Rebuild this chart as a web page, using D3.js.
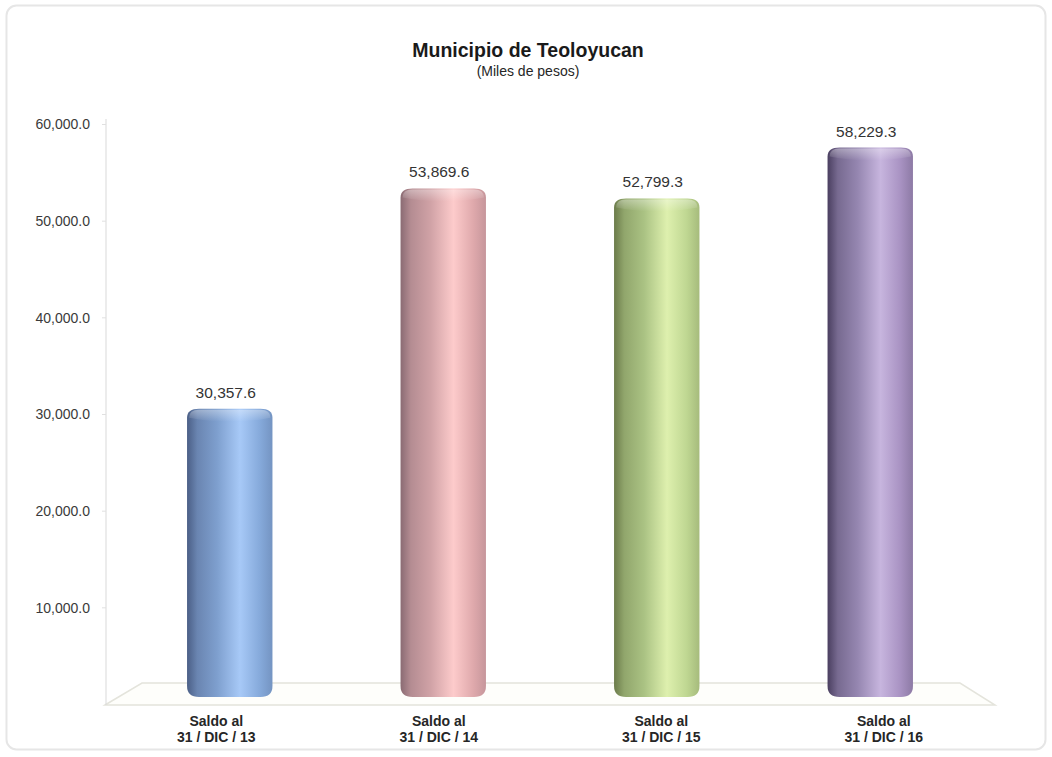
<!DOCTYPE html>
<html><head><meta charset="utf-8">
<script src="https://cdn.jsdelivr.net/npm/d3@7"></script>
<style>body{margin:0;background:#fff;}svg{display:block;font-family:"Liberation Sans",Arial,sans-serif;}</style>
</head><body>
<svg id="c" width="1052" height="757"></svg>
<script>
const categories = ["Saldo al|31 / DIC / 13","Saldo al|31 / DIC / 14","Saldo al|31 / DIC / 15","Saldo al|31 / DIC / 16"];
const values = [30357.6, 53869.6, 52799.3, 58229.3];
const valueLabels = ["30,357.6","53,869.6","52,799.3","58,229.3"];
const yTicks = [10000,20000,30000,40000,50000,60000];
const yTickLabels = ["10,000.0","20,000.0","30,000.0","40,000.0","50,000.0","60,000.0"];
const colors = [
  ["#4b5f86","#7e9fce","#a7c9f7","#86aadb"],
  ["#8a6b73","#d0a2a6","#fdcbcb","#dfa9ac"],
  ["#6b7b4a","#aac283","#def0ae","#bfd792"],
  ["#4a3f60","#9586b0","#c7b5de","#a993c3"]
];

const svg = d3.select("#c");
svg.append("rect").attr("x",6.5).attr("y",5.5).attr("width",1039).attr("height",744)
  .attr("rx",10).attr("fill","none").attr("stroke","#e6e6e6").attr("stroke-width",2);

svg.append("text").attr("x",528).attr("y",57).attr("text-anchor","middle")
  .attr("font-size",19.5).attr("font-weight","bold").attr("fill","#1a1a1a").text("Municipio de Teoloyucan");
svg.append("text").attr("x",528).attr("y",76).attr("text-anchor","middle")
  .attr("font-size",14).attr("fill","#262626").text("(Miles de pesos)");

const yAxis = d3.scaleLinear().domain([0,60000]).range([704,124]);
const yBar = d3.scaleLinear().domain([0,60000]).range([699,137]);
const x = d3.scaleBand().domain(categories).range([123,977]).paddingInner(0.6).paddingOuter(0.3);
const xFront = d3.scaleBand().domain(categories).range([105,995]);

const floor = svg.append("g");
floor.append("path").attr("d",`M105,705 L142,683 L960,683 L995,705 Z`)
  .attr("fill","#fefefb").attr("stroke","#e4e4dc").attr("stroke-width",1.5);

const ax = svg.append("g").attr("transform","translate(106,0)")
  .call(d3.axisLeft(yAxis).tickValues(yTicks).tickSize(5).tickFormat((d,i)=>yTickLabels[i]));
ax.select(".domain").attr("stroke","#d9d9d9").attr("d","M0,119V705");
ax.selectAll(".tick line").attr("stroke","#e0e0e0").attr("x1",0).attr("x2",-4);
ax.selectAll(".tick text").attr("x",-16).attr("dy","0.35em").attr("font-size",14).attr("fill","#3a3a3a")
  .attr("font-family","'Liberation Sans',Arial,sans-serif");

const defs = svg.append("defs");
colors.forEach((c,i)=>{
  const g = defs.append("linearGradient").attr("id","g"+i).attr("x1","0").attr("x2","1").attr("y1","0").attr("y2","0");
  [[0,c[0]],[0.12,d3.interpolateRgb(c[0],c[1])(0.6)],[0.35,c[1]],[0.62,c[2]],[0.85,c[3]],[1,d3.interpolateRgb(c[3],c[0])(0.3)]]
    .forEach(s=>g.append("stop").attr("offset",s[0]).attr("stop-color",s[1]));
  const t = defs.append("linearGradient").attr("id","t"+i).attr("x1","0").attr("x2","0").attr("y1","0").attr("y2","1");
  t.append("stop").attr("offset",0).attr("stop-color","#fff").attr("stop-opacity",0.35);
  t.append("stop").attr("offset",1).attr("stop-color","#fff").attr("stop-opacity",0);
});

const bottomY = 691;
const bars = svg.append("g");
values.forEach((v,i)=>{
  const x0 = x(categories[i]), w = x.bandwidth(), top = yBar(v) - 6;
  const r = 12, ry = 9;
  const p = `M${x0},${top+ry} Q${x0},${top} ${x0+r},${top} L${x0+w-r},${top} Q${x0+w},${top} ${x0+w},${top+ry}
    L${x0+w},${bottomY-ry+4} Q${x0+w},${bottomY+6} ${x0+w-r},${bottomY+6} L${x0+r},${bottomY+6} Q${x0},${bottomY+6} ${x0},${bottomY-ry+4} Z`;
  bars.append("path").attr("d",p).attr("fill",`url(#g${i})`);
  bars.append("path").attr("d",`M${x0+2},${top+ry} Q${x0+2},${top+1} ${x0+r},${top+1} L${x0+w-r},${top+1} Q${x0+w-2},${top+1} ${x0+w-2},${top+ry} Q${x0+w/2},${top+ry+8} ${x0+2},${top+ry} Z`)
    .attr("fill",`url(#t${i})`);
  bars.append("text").attr("x",x0+w/2-4).attr("y",yBar(v)-17).attr("text-anchor","middle")
    .attr("font-size",15.5).attr("fill","#333").text(valueLabels[i]);
  const lines = categories[i].split("|");
  const cx = xFront(categories[i]) + xFront.bandwidth()/2;
  lines.forEach((l,j)=>{
    bars.append("text").attr("x",cx).attr("y",726+j*15.5).attr("text-anchor","middle")
      .attr("font-size",14).attr("font-weight","bold").attr("fill","#262626").text(l);
  });
});
</script>
</body></html>
